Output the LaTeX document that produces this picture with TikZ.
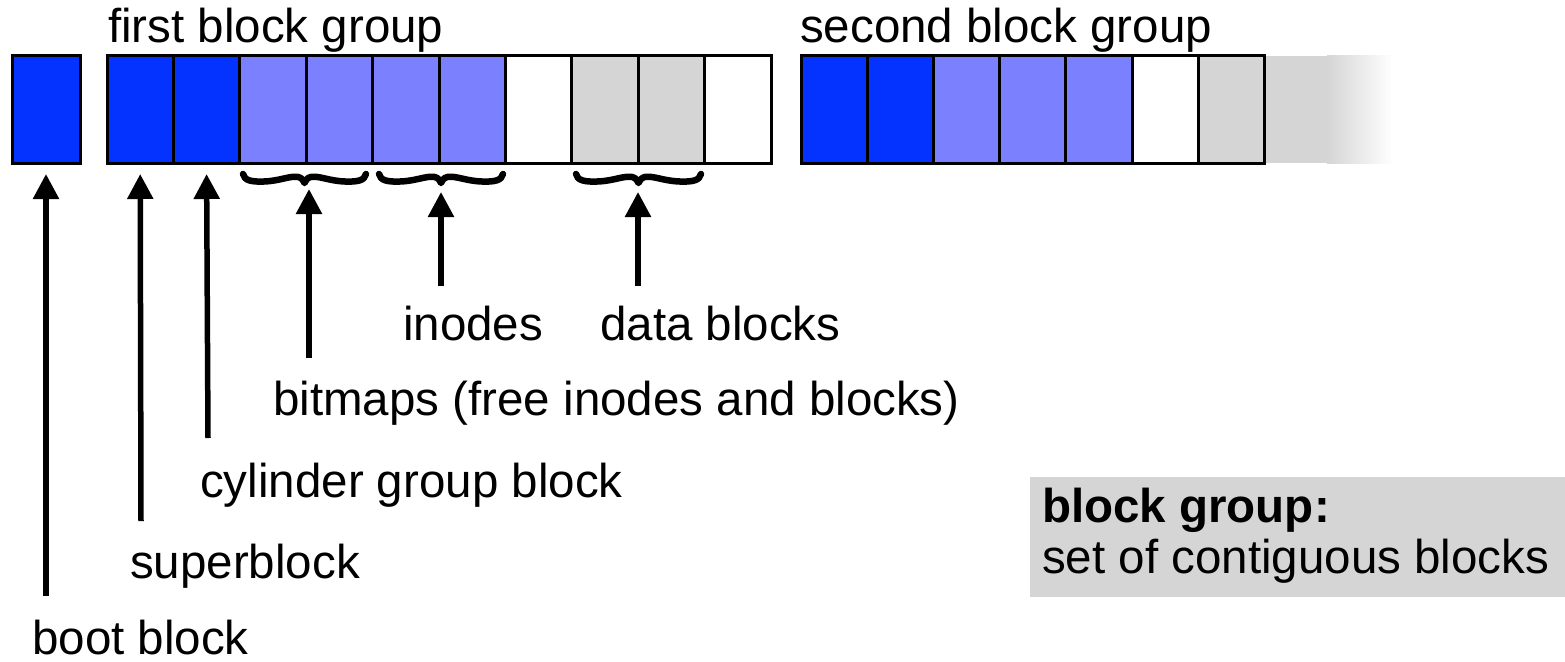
\documentclass[tikz,border=0pt]{standalone}
\usepackage{fontspec}
\setmainfont{Liberation Sans}
\usetikzlibrary{arrows.meta}
\definecolor{dblue}{HTML}{0433FF}
\definecolor{lblue}{HTML}{7B80FF}
\definecolor{lgray}{HTML}{D5D5D5}
% wavy curly brace pointing down: #1 left x, #2 right x, #3 top y, amplitude 9
\def\wavybrace#1#2#3{%
  \draw[brc] (#1,#3)
    .. controls ({#1+0.01*(#2-#1)},{#3+6.5}) and ({#1+0.07*(#2-#1)},{#3+8}) .. ({#1+0.17*(#2-#1)},{#3+7.5})
    .. controls ({#1+0.30*(#2-#1)},{#3+7}) and ({#1+0.38*(#2-#1)},{#3+1.5}) .. ({#1+0.45*(#2-#1)},{#3+3})
    .. controls ({#1+0.48*(#2-#1)},{#3+4}) and ({#1+0.495*(#2-#1)},{#3+7}) .. ({#1+0.5*(#2-#1)},{#3+9})
    .. controls ({#1+0.505*(#2-#1)},{#3+7}) and ({#1+0.52*(#2-#1)},{#3+4}) .. ({#1+0.55*(#2-#1)},{#3+3})
    .. controls ({#1+0.62*(#2-#1)},{#3+1.5}) and ({#1+0.70*(#2-#1)},{#3+7}) .. ({#1+0.83*(#2-#1)},{#3+7.5})
    .. controls ({#1+0.93*(#2-#1)},{#3+8}) and ({#1+0.99*(#2-#1)},{#3+6.5}) .. (#2,#3);}
\begin{document}
\begin{tikzpicture}[x=1pt,y=-1pt,
  cell/.style={draw=black, line width=3pt, minimum width=66.4pt, minimum height=107pt, inner sep=0pt, outer sep=0pt, anchor=north west},
  lbl/.style={anchor=base west, inner sep=0pt, font=\fontsize{47.5}{57}\selectfont},
  arr/.style={line width=5.5pt, -{Triangle[width=25pt,length=25pt]}},
  brc/.style={line width=6.5pt, line cap=round, line join=round}]
\useasboundingbox (0,0) rectangle (1565,661);
% trailing fade of the second group
\fill[lgray] (1264,56) rectangle (1327,163);
\shade[left color=lgray, right color=white] (1327,56) rectangle (1393,163);
% boot block
\node[cell, fill=dblue, minimum width=68pt] (boot) at (12,56) {};
% first block group
\foreach \i/\c in {1/dblue,2/dblue,3/lblue,4/lblue,5/lblue,6/lblue,7/white,8/lgray,9/lgray,10/white}
  \node[cell, fill=\c] (a\i) at ({107+(\i-1)*66.4},56) {};
% second block group
\foreach \i/\c in {1/dblue,2/dblue,3/lblue,4/lblue,5/lblue,6/white,7/lgray}
  \node[cell, fill=\c] (b\i) at ({801+(\i-1)*66.2},56) {};
% group titles
\node[lbl] (t1) at (108,43) {first block group};
\node[lbl] (t2) at (800,43) {second block group};
% braces
\wavybrace{243}{366}{174}
\wavybrace{379}{503}{174}
\wavybrace{576}{701}{174}
% labels
\node[lbl] (linodes) at (403,340) {inodes};
\node[lbl] (ldata) at (600,340) {data blocks};
\node[lbl] (lbitmaps) at (273,415) {bitmaps (free inodes and blocks)};
\node[lbl] (lcyl) at (200,497) {cylinder group block};
\node[lbl] (lsuper) at (130,578) {superblock};
\node[lbl] (lboot) at (32,654) {boot block};
% arrow ends
\coordinate (bootA) at (46,596);
\coordinate (superA) at (141,521);
\coordinate (cylA) at (208,438);
\coordinate (bmA) at (309,358);
\coordinate (inA) at (441,286);
\coordinate (daA) at (638,286);
\coordinate (bmT) at (309,189);
\coordinate (inT) at (441,192);
\coordinate (daT) at (638,192);
\draw[arr] (bootA) -- ([yshift=-11pt]boot.south);
\draw[arr] (superA) -- ([yshift=-11pt]a1.south);
\draw[arr] (cylA) -- ([yshift=-11pt]a2.south);
\draw[arr] (bmA) -- (bmT);
\draw[arr] (inA) -- (inT);
\draw[arr] (daA) -- (daT);
% legend
\node[fill=lgray, inner sep=0pt, minimum width=535pt, minimum height=120pt, anchor=north west] (note) at (1030,477) {};
\node[lbl] (nt1) at (1042,522) {\bfseries block group:};
\node[lbl] (nt2) at (1042,573) {set of contiguous blocks};
\end{tikzpicture}
\end{document}
